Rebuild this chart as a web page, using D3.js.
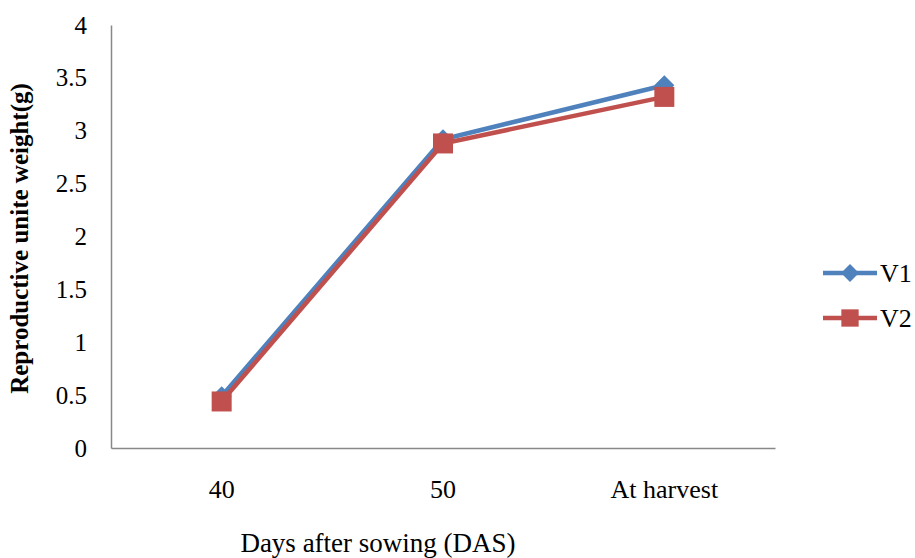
<!DOCTYPE html>
<html>
<head>
<meta charset="utf-8">
<script src="https://cdn.jsdelivr.net/npm/d3@7"></script>
<style>
  body { margin: 0; background: #fff; }
  text { font-family: "Liberation Serif", "Times New Roman", serif; }
</style>
</head>
<body>
<div id="chart"></div>
<script>
const categories = ["40", "50", "At harvest"];
const v1 = [0.49, 2.92, 3.43];
const v2 = [0.44, 2.88, 3.32];
const yTicks = [0, 0.5, 1, 1.5, 2, 2.5, 3, 3.5, 4];

const width = 915, height = 558;
const margin = { top: 25, right: 140, bottom: 110, left: 111 };

const svg = d3.select("#chart").append("svg")
    .attr("width", width)
    .attr("height", height);

const x = d3.scaleBand()
    .domain(categories)
    .range([margin.left, width - margin.right]);

const y = d3.scaleLinear()
    .domain([0, 4])
    .range([height - margin.bottom, margin.top]);

// axes, grey lines and no tick marks
const yAxis = svg.append("g")
    .attr("transform", `translate(${margin.left},0)`)
    .call(d3.axisLeft(y).tickValues(yTicks).tickSize(0).tickPadding(24).tickFormat(d3.format("")));
yAxis.select(".domain").attr("stroke", "#888").attr("stroke-width", 1.5);
yAxis.selectAll("text").attr("font-size", 25).attr("fill", "#000");

const xAxis = svg.append("g")
    .attr("transform", `translate(0,${height - margin.bottom})`)
    .call(d3.axisBottom(x).tickSize(0).tickPadding(32));
xAxis.select(".domain").attr("stroke", "#888").attr("stroke-width", 1.5);
xAxis.selectAll("text").attr("font-size", 26).attr("fill", "#000");

// axis titles
svg.append("text")
    .attr("transform", `translate(28,${(margin.top + height - margin.bottom) / 2 + 2}) rotate(-90)`)
    .attr("text-anchor", "middle")
    .attr("font-size", 25)
    .attr("font-weight", "bold")
    .text("Reproductive unite weight(g)");

svg.append("text")
    .attr("x", 378)
    .attr("y", 552)
    .attr("text-anchor", "middle")
    .attr("font-size", 27)
    .text("Days after sowing (DAS)");

const series = [
    { name: "V1", values: v1, color: "#4F81BD", rot: 45, size: 200 },
    { name: "V2", values: v2, color: "#C0504D", rot: 0, size: 400 }
];

const line = d3.line()
    .x((d, i) => x(categories[i]) + x.bandwidth() / 2)
    .y(d => y(d));

series.forEach(s => {
    svg.append("path")
        .datum(s.values)
        .attr("fill", "none")
        .attr("stroke", s.color)
        .attr("stroke-width", 4.5)
        .attr("d", line);

    svg.append("g")
        .selectAll("path")
        .data(s.values)
        .enter()
        .append("path")
        .attr("transform", (d, i) => `translate(${x(categories[i]) + x.bandwidth() / 2},${y(d)}) rotate(${s.rot})`)
        .attr("d", d3.symbol().type(d3.symbolSquare).size(s.size))
        .attr("fill", s.color);
});

// legend
const legend = svg.append("g");
series.forEach((s, i) => {
    const ly = 273 + i * 45;
    legend.append("line")
        .attr("x1", 823).attr("x2", 877)
        .attr("y1", ly).attr("y2", ly)
        .attr("stroke", s.color)
        .attr("stroke-width", 4.5);
    legend.append("path")
        .attr("transform", `translate(850,${ly}) rotate(${s.rot})`)
        .attr("d", d3.symbol().type(d3.symbolSquare).size(s.rot ? 160 : 300))
        .attr("fill", s.color);
    legend.append("text")
        .attr("x", 880)
        .attr("y", ly + 9)
        .attr("font-size", 26)
        .text(s.name);
});
</script>
</body>
</html>
